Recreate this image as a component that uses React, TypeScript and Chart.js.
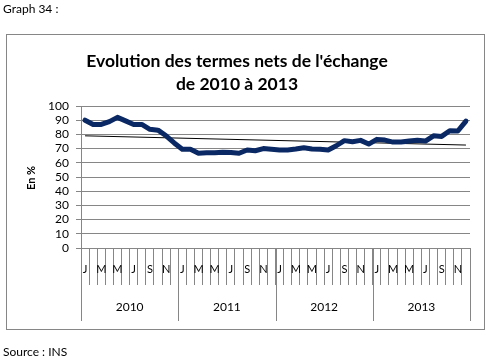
import React, { useEffect, useRef } from "react";
import { Chart, registerables } from "chart.js";

Chart.register(...registerables);

const years = ["2010", "2011", "2012", "2013"];
const monthLetters = ["J", "", "M", "", "M", "", "J", "", "S", "", "N", ""];
const yTicks = [0, 10, 20, 30, 40, 50, 60, 70, 80, 90, 100];

const values = [
  90, 87, 87, 89, 92, 89.5, 87, 87, 83.6, 83, 79, 74,
  69.5, 69.5, 66.7, 67, 67, 67.5, 67.2, 66.7, 69, 68.5, 70, 69.5,
  69, 69, 69.7, 70.6, 69.7, 69.5, 69, 72, 75.6, 74.8, 75.8, 73.2,
  76.5, 76, 74.6, 74.6, 75.3, 75.8, 75.3, 79, 78.6, 82.6, 82.4, 89.4,
];

const trendStart = 79;
const trendEnd = 72.5;

const categories: string[] = [];
years.forEach((y) => monthLetters.forEach((m, i) => categories.push(y + "-" + (i + 1))));

const trend: (number | null)[] = categories.map((_, i) =>
  i === 0 ? trendStart : i === categories.length - 1 ? trendEnd : null
);

const FONT = "Lato, 'Open Sans', sans-serif";
const GRID = "#868686";

const framePlugin = {
  id: "frame",
  beforeDraw(chart: any) {
    const ctx = chart.ctx;
    ctx.save();
    ctx.fillStyle = "#fff";
    ctx.fillRect(0, 0, chart.width, chart.height);
    ctx.strokeStyle = GRID;
    ctx.lineWidth = 1;
    ctx.strokeRect(6.5, 34.5, 478, 295);
    ctx.fillStyle = "#000";
    ctx.textBaseline = "middle";
    ctx.textAlign = "left";
    ctx.font = "12px " + FONT;
    ctx.fillText("Graph 34 :", 3, 9);
    ctx.fillText("Source : INS", 3, 352);
    ctx.textAlign = "center";
    ctx.font = "bold 17.5px " + FONT;
    ctx.fillText("Evolution des termes nets de l'\u00e9change", 237, 61);
    ctx.fillText("de 2010 \u00e0 2013", 237, 84);
    ctx.save();
    ctx.translate(31, 178);
    ctx.rotate(-Math.PI / 2);
    ctx.font = "bold 11px " + FONT;
    ctx.fillText("En %", 0, 0);
    ctx.restore();
    ctx.restore();
  },
  afterDraw(chart: any) {
    const ctx = chart.ctx;
    const x = chart.scales.x;
    const bottom = chart.chartArea.bottom;
    const step = x.getPixelForValue(1) - x.getPixelForValue(0);
    ctx.save();
    ctx.fillStyle = "#000";
    ctx.textBaseline = "middle";
    ctx.textAlign = "center";
    ctx.font = "11px " + FONT;
    categories.forEach((_, i) => {
      const letter = monthLetters[i % 12];
      if (letter) ctx.fillText(letter, x.getPixelForValue(i), bottom + 21);
    });
    ctx.strokeStyle = GRID;
    ctx.lineWidth = 1;
    ctx.font = "12px " + FONT;
    years.forEach((y, k) => {
      const start = x.getPixelForValue(k * 12) - step / 2;
      const end = x.getPixelForValue(k * 12 + 11) + step / 2;
      ctx.fillText(y, (start + end) / 2, bottom + 59);
    });
    for (let k = 0; k <= years.length; k++) {
      const px = Math.round(x.getPixelForValue(k * 12) - step / 2) + 0.5;
      ctx.beginPath();
      ctx.moveTo(px, bottom);
      ctx.lineTo(px, bottom + 73);
      ctx.stroke();
    }
    ctx.restore();
  },
};

export default function App() {
  const ref = useRef<HTMLCanvasElement>(null);
  useEffect(() => {
    if (!ref.current) return;
    const chart = new Chart(ref.current, {
      type: "line",
      data: {
        labels: categories,
        datasets: [
          {
            data: values,
            borderColor: "#0a2864",
            borderWidth: 5,
            pointRadius: 0,
            tension: 0,
            borderJoinStyle: "round",
            borderCapStyle: "round",
            order: 0,
          },
          {
            data: trend,
            borderColor: "#000",
            borderWidth: 1,
            pointRadius: 0,
            spanGaps: true,
            order: 1,
          },
        ],
      },
      options: {
        responsive: false,
        animation: false,
        devicePixelRatio: 1,
        layout: { padding: { left: 0, top: 106, right: 17, bottom: 0 } },
        plugins: { legend: { display: false }, title: { display: false }, tooltip: { enabled: false } },
        scales: {
          x: {
            offset: true,
            grid: { offset: true, drawOnChartArea: false, tickLength: 37, color: GRID },
            border: { color: GRID },
            ticks: { display: false },
            afterFit: (s: any) => { s.height = 112; },
          },
          y: {
            min: 0,
            max: 100,
            afterBuildTicks: (s: any) => { s.ticks = yTicks.map((v) => ({ value: v })); },
            grid: { color: GRID, tickLength: 5 },
            border: { color: GRID },
            ticks: { color: "#000", padding: 7, autoSkip: false, font: { family: FONT, size: 12 } },
            afterFit: (s: any) => { s.width = 81; },
          },
        },
      },
      plugins: [framePlugin],
    });
    return () => chart.destroy();
  }, []);
  return (
    <div style={{ position: "fixed", left: 0, top: 0, width: 487, height: 360 }}>
      <canvas ref={ref} width={487} height={360} style={{ width: 487, height: 360 }} />
    </div>
  );
}
